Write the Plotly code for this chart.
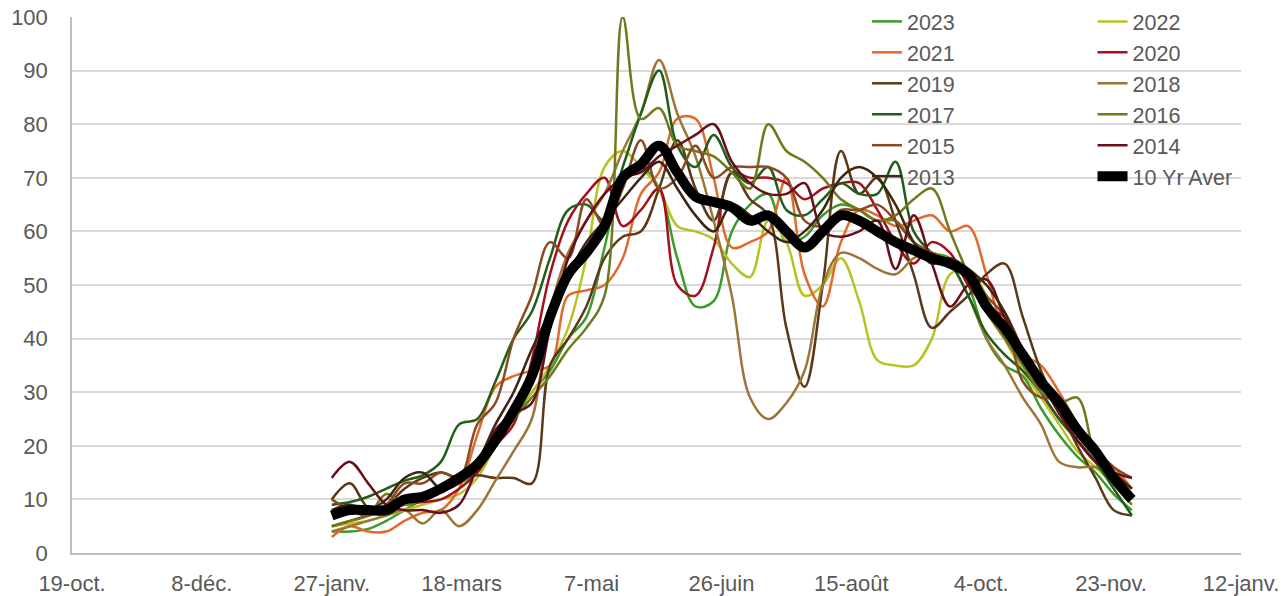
import pandas as pd
import plotly.graph_objects as go

# weekly observation dates (one point per week, late Jan to early Dec)
weeks = pd.date_range("2023-01-27", periods=45, freq="7D")

tick_dates = pd.date_range("2022-10-19", periods=10, freq="50D")
tick_labels = ["19-oct.", "8-déc.", "27-janv.", "18-mars", "7-mai", "26-juin",
               "15-août", "4-oct.", "23-nov.", "12-janv."]

y2023 = [4, 4, 4.5, 6, 8, 10, 12, 13, 15, 20, 25, 30, 34, 40, 44, 57, 70, 72, 68, 55, 46, 47,
         60, 65, 67, 58, 59, 63, 65, 64, 62, 62, 58, 56, 55, 50, 40, 35, 33, 27, 22, 18, 15, 11, 8]
y2022 = [5, 5.5, 6, 7, 8, 9, 10, 11, 14, 20, 26, 30, 35, 42, 55, 72, 75, 72, 68, 61, 60, 58.5,
         54, 51.5, 62, 58, 48, 50, 55, 47, 36, 35, 35, 40, 52, 53, 48, 40, 34, 29, 24, 19, 16, 13, 10]
y2021 = [3, 5, 4, 4, 6, 7.5, 8, 12, 22, 31, 33, 34, 35, 48, 49, 50, 55, 67, 71, 81, 81, 70,
         57, 58, 60, 70, 52, 46, 58, 64, 63, 61, 62, 63, 60, 61, 52, 41, 37, 35, 30, 24, 19, 16, 12]
y2020 = [5, 6, 7, 8, 9, 9.5, 10, 12, 15, 20, 24, 36, 52, 62, 67, 70, 61, 64, 68, 50, 48, 57,
         71, 70, 70, 69, 66, 68, 69, 69, 64, 58, 54, 58, 56, 50, 46, 44, 37, 30, 25, 21, 17, 13, 11]
y2019 = [10, 13, 8.5, 9, 12, 14, 15, 14, 14.5, 14, 14, 13, 35, 40, 46, 55, 59, 60, 68, 77, 68, 62,
         71, 66, 63, 42, 31, 50, 75, 67, 70, 62, 52, 42, 45, 48, 52, 54, 44, 34, 27, 20, 14, 8, 7]
y2018 = [4, 5, 6, 7, 8, 5.5, 8, 5, 8, 13.5, 19, 25, 45, 56, 62, 67, 75, 82, 92, 82, 74, 62,
         48, 29, 25, 28, 34, 50, 56, 55, 53, 52, 55, 56, 54, 48, 40, 35, 29, 24, 17, 16, 16, 14, 12]
y2017 = [9, 9.5, 10.5, 12, 13.5, 14.5, 17, 24, 25, 32, 40, 45, 55, 64, 65, 62, 72, 82, 90, 76, 72, 78,
         72, 69, 72, 64, 63, 66, 69, 67, 67, 73, 60, 56, 54, 48, 41, 37, 34, 30, 25, 21, 17, 12, 7]
y2016 = [5, 6, 7, 11, 9, 10, 12, 14, 17, 21, 25, 29, 33, 38, 42, 48, 100, 81, 83, 76, 75, 74,
         71, 68, 80, 75, 73, 70, 66, 64, 62, 63, 66, 68, 60, 52, 45, 40, 35, 30, 28, 29, 18, 13, 9]
y2015 = [10, 8, 7, 9, 13, 13, 15, 14, 24, 28, 40, 48, 58, 55, 66, 61, 68, 77, 68, 70, 76, 70,
         72, 72, 72, 70, 62, 61, 64, 64, 65, 62, 58, 56, 54, 52, 48, 44, 32, 29, 29, 24, 19, 16, 14]
y2014 = [14, 17, 13, 9, 8, 8, 7.5, 9, 16, 23, 26, 28, 42, 55, 62, 67, 70, 71, 74, 76, 78, 80,
         73, 69, 67, 67, 69, 60, 59, 60, 62, 53, 63, 54, 46, 50, 51, 44, 38, 32, 26, 21, 17, 15, 14]
y2013 = [8, 9, 8, 10, 14, 15, 12, 13, 17, 24, 30, 38, 45, 52, 58, 62, 66, 70, 73, 68, 63, 60,
         65, 63, 60, 58, 60, 64, 70, 72, 70, 65, 58, 54, 55, 53, 50, 45, 38, 32, 27, 22, 18, 15, 12]
avg10 = [7, 8, 8, 8, 10, 10.5, 12, 14, 16.5, 21, 26.5, 33, 44, 52, 56, 61, 70, 72.5, 76, 71, 66.5, 65.5,
         64.5, 62, 63, 60, 57, 60, 63, 62, 60, 58, 56.5, 55, 54, 52, 46, 42, 37, 32, 28, 23, 19, 14, 10]

series = [
    ("2023", y2023, "#3b9b2b", "legend"),
    ("2022", y2022, "#b7c323", "legend2"),
    ("2021", y2021, "#e06a2c", "legend"),
    ("2020", y2020, "#a3111f", "legend2"),
    ("2019", y2019, "#5a3818", "legend"),
    ("2018", y2018, "#9c7538", "legend2"),
    ("2017", y2017, "#1f5f1a", "legend"),
    ("2016", y2016, "#6e7a1b", "legend2"),
    ("2015", y2015, "#8b4a24", "legend"),
    ("2014", y2014, "#6b0e1b", "legend2"),
    ("2013", y2013, "#3e2412", "legend"),
]

fig = go.Figure()
for name, vals, color, leg in series:
    fig.add_trace(go.Scatter(
        x=weeks, y=vals, name=name, mode="lines", legend=leg,
        line=dict(color=color, width=2.5, shape="spline"),
    ))
fig.add_trace(go.Scatter(
    x=weeks, y=avg10, name="10 Yr Aver", mode="lines", legend="legend2",
    line=dict(color="black", width=10, shape="spline"),
))

grey = "#595959"
legend_style = dict(bgcolor="rgba(0,0,0,0)", font=dict(size=21.5, color=grey),
                    yanchor="top", xanchor="left", tracegroupgap=0)

# page body adds an 8px offset, so the figure is 8px smaller than the window
fig.update_layout(
    width=1279, height=588,
    margin=dict(l=64, r=46, t=9, b=43, autoexpand=False),
    paper_bgcolor="white", plot_bgcolor="white",
    font=dict(family="Liberation Sans, Arial, sans-serif", size=22, color=grey),
    showlegend=True,
    legend=dict(x=0.68, y=1.03, **legend_style),
    legend2=dict(x=0.873, y=1.03, **legend_style),
    xaxis=dict(
        type="date", range=[tick_dates[0], tick_dates[-1]],
        tickvals=tick_dates, ticktext=tick_labels, automargin=False,
        showgrid=False, showline=True, linecolor="#bfbfbf", linewidth=1.5,
        ticks="", ticklabelstandoff=10, zeroline=False,
    ),
    yaxis=dict(
        range=[0, 100], dtick=10, showgrid=True, gridcolor="#d9d9d9", gridwidth=1.5,
        showline=True, linecolor="#bfbfbf", linewidth=1.5, zeroline=False,
        ticks="", ticklabelstandoff=18, automargin=False, ticklabeloverflow="allow",
    ),
)

fig.write_html("out.html")
